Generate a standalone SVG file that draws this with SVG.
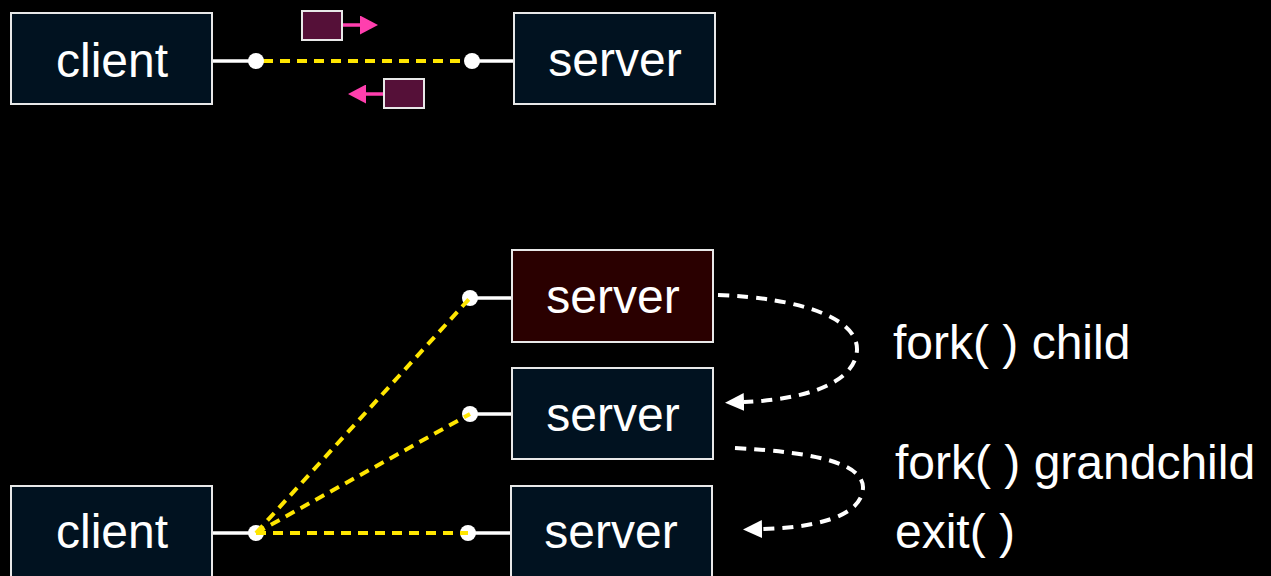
<svg xmlns="http://www.w3.org/2000/svg" width="1271" height="576" viewBox="0 0 1271 576">
<style>
.box{fill:#011220;stroke:#e8e8e8;stroke-width:2}
.red{fill:#2a0000}
.lbl{font-family:"Liberation Sans",Arial,Helvetica,sans-serif;font-size:48px;fill:#ffffff}
.mid{text-anchor:middle}
.wire{stroke:#ffffff;stroke-width:3.5}
.dot{fill:#ffffff}
.yel{stroke:#ffe600;stroke-width:4;stroke-dasharray:10 7;fill:none}
.wd{stroke:#ffffff;stroke-width:4;stroke-dasharray:11 8;fill:none}
.pkt{fill:#551038;stroke:#e8e8e8;stroke-width:2}
.pa{stroke:#ff3fae;stroke-width:3.5}
</style>
<defs>
<marker id="pink" markerWidth="18" markerHeight="19" refX="0" refY="9.5" orient="auto" markerUnits="userSpaceOnUse"><path d="M0,0 L18,9.5 L0,19 Z" fill="#ff3fae"/></marker>
<marker id="wh" markerWidth="19" markerHeight="18" refX="0" refY="9" orient="auto" markerUnits="userSpaceOnUse"><path d="M0,0 L19,9 L0,18 Z" fill="#ffffff"/></marker>
</defs>
<rect width="1271" height="576" fill="#000"/>
<g id="connectors">
<line class="wire" x1="212" y1="61" x2="256" y2="61"/>
<line class="yel" x1="263" y1="61" x2="466" y2="61"/>
<line class="wire" x1="472" y1="61" x2="514" y2="61"/>
<circle class="dot" cx="256" cy="61" r="8"/>
<circle class="dot" cx="472" cy="61" r="8"/>
<line class="pa" x1="342" y1="25" x2="360" y2="25" marker-end="url(#pink)"/>
<line class="pa" x1="384" y1="94" x2="366" y2="94" marker-end="url(#pink)"/>
<line class="wire" x1="212" y1="533" x2="256" y2="533"/>
<line class="wire" x1="470" y1="298" x2="512" y2="298"/>
<line class="wire" x1="470" y1="414" x2="512" y2="414"/>
<line class="wire" x1="468" y1="533" x2="511" y2="533"/>
<circle class="dot" cx="256" cy="533" r="8"/>
<circle class="dot" cx="470" cy="298" r="8"/>
<circle class="dot" cx="470" cy="414" r="8"/>
<circle class="dot" cx="468" cy="533" r="8"/>
<line class="yel" x1="256" y1="533" x2="470" y2="298"/>
<line class="yel" x1="256" y1="533" x2="470" y2="414"/>
<line class="yel" x1="256" y1="533" x2="468" y2="533"/>
<path class="wd" d="M718,295 C800,298 858,318 857,350 C855,385 800,400 744,402" marker-end="url(#wh)"/>
<path class="wd" d="M735,448 C810,452 862,462 863,487 C863,518 810,528 762,529" marker-end="url(#wh)"/>
</g>
<g id="packet1"><rect class="pkt" x="302" y="11" width="40" height="29"/></g>
<g id="packet2"><rect class="pkt" x="384" y="79" width="40" height="29"/></g>
<g id="client-top"><rect class="box" x="11" y="13" width="201" height="91"/><text class="lbl mid" x="112" y="77">client</text></g>
<g id="server-top"><rect class="box" x="514" y="13" width="201" height="91"/><text class="lbl mid" x="615" y="76">server</text></g>
<g id="server-child"><rect class="box red" x="512" y="250" width="201" height="92"/><text class="lbl mid" x="613" y="313">server</text></g>
<g id="server-grandchild"><rect class="box" x="512" y="368" width="201" height="91"/><text class="lbl mid" x="613" y="431">server</text></g>
<g id="server-bottom"><rect class="box" x="511" y="486" width="201" height="92"/><text class="lbl mid" x="611" y="548">server</text></g>
<g id="client-bottom"><rect class="box" x="11" y="486" width="201" height="92"/><text class="lbl mid" x="112" y="548">client</text></g>
<g id="labels">
<text class="lbl" x="893" y="359">fork( ) child</text>
<text class="lbl" x="895" y="479">fork( ) grandchild</text>
<text class="lbl" x="895" y="548">exit( )</text>
</g>
</svg>
